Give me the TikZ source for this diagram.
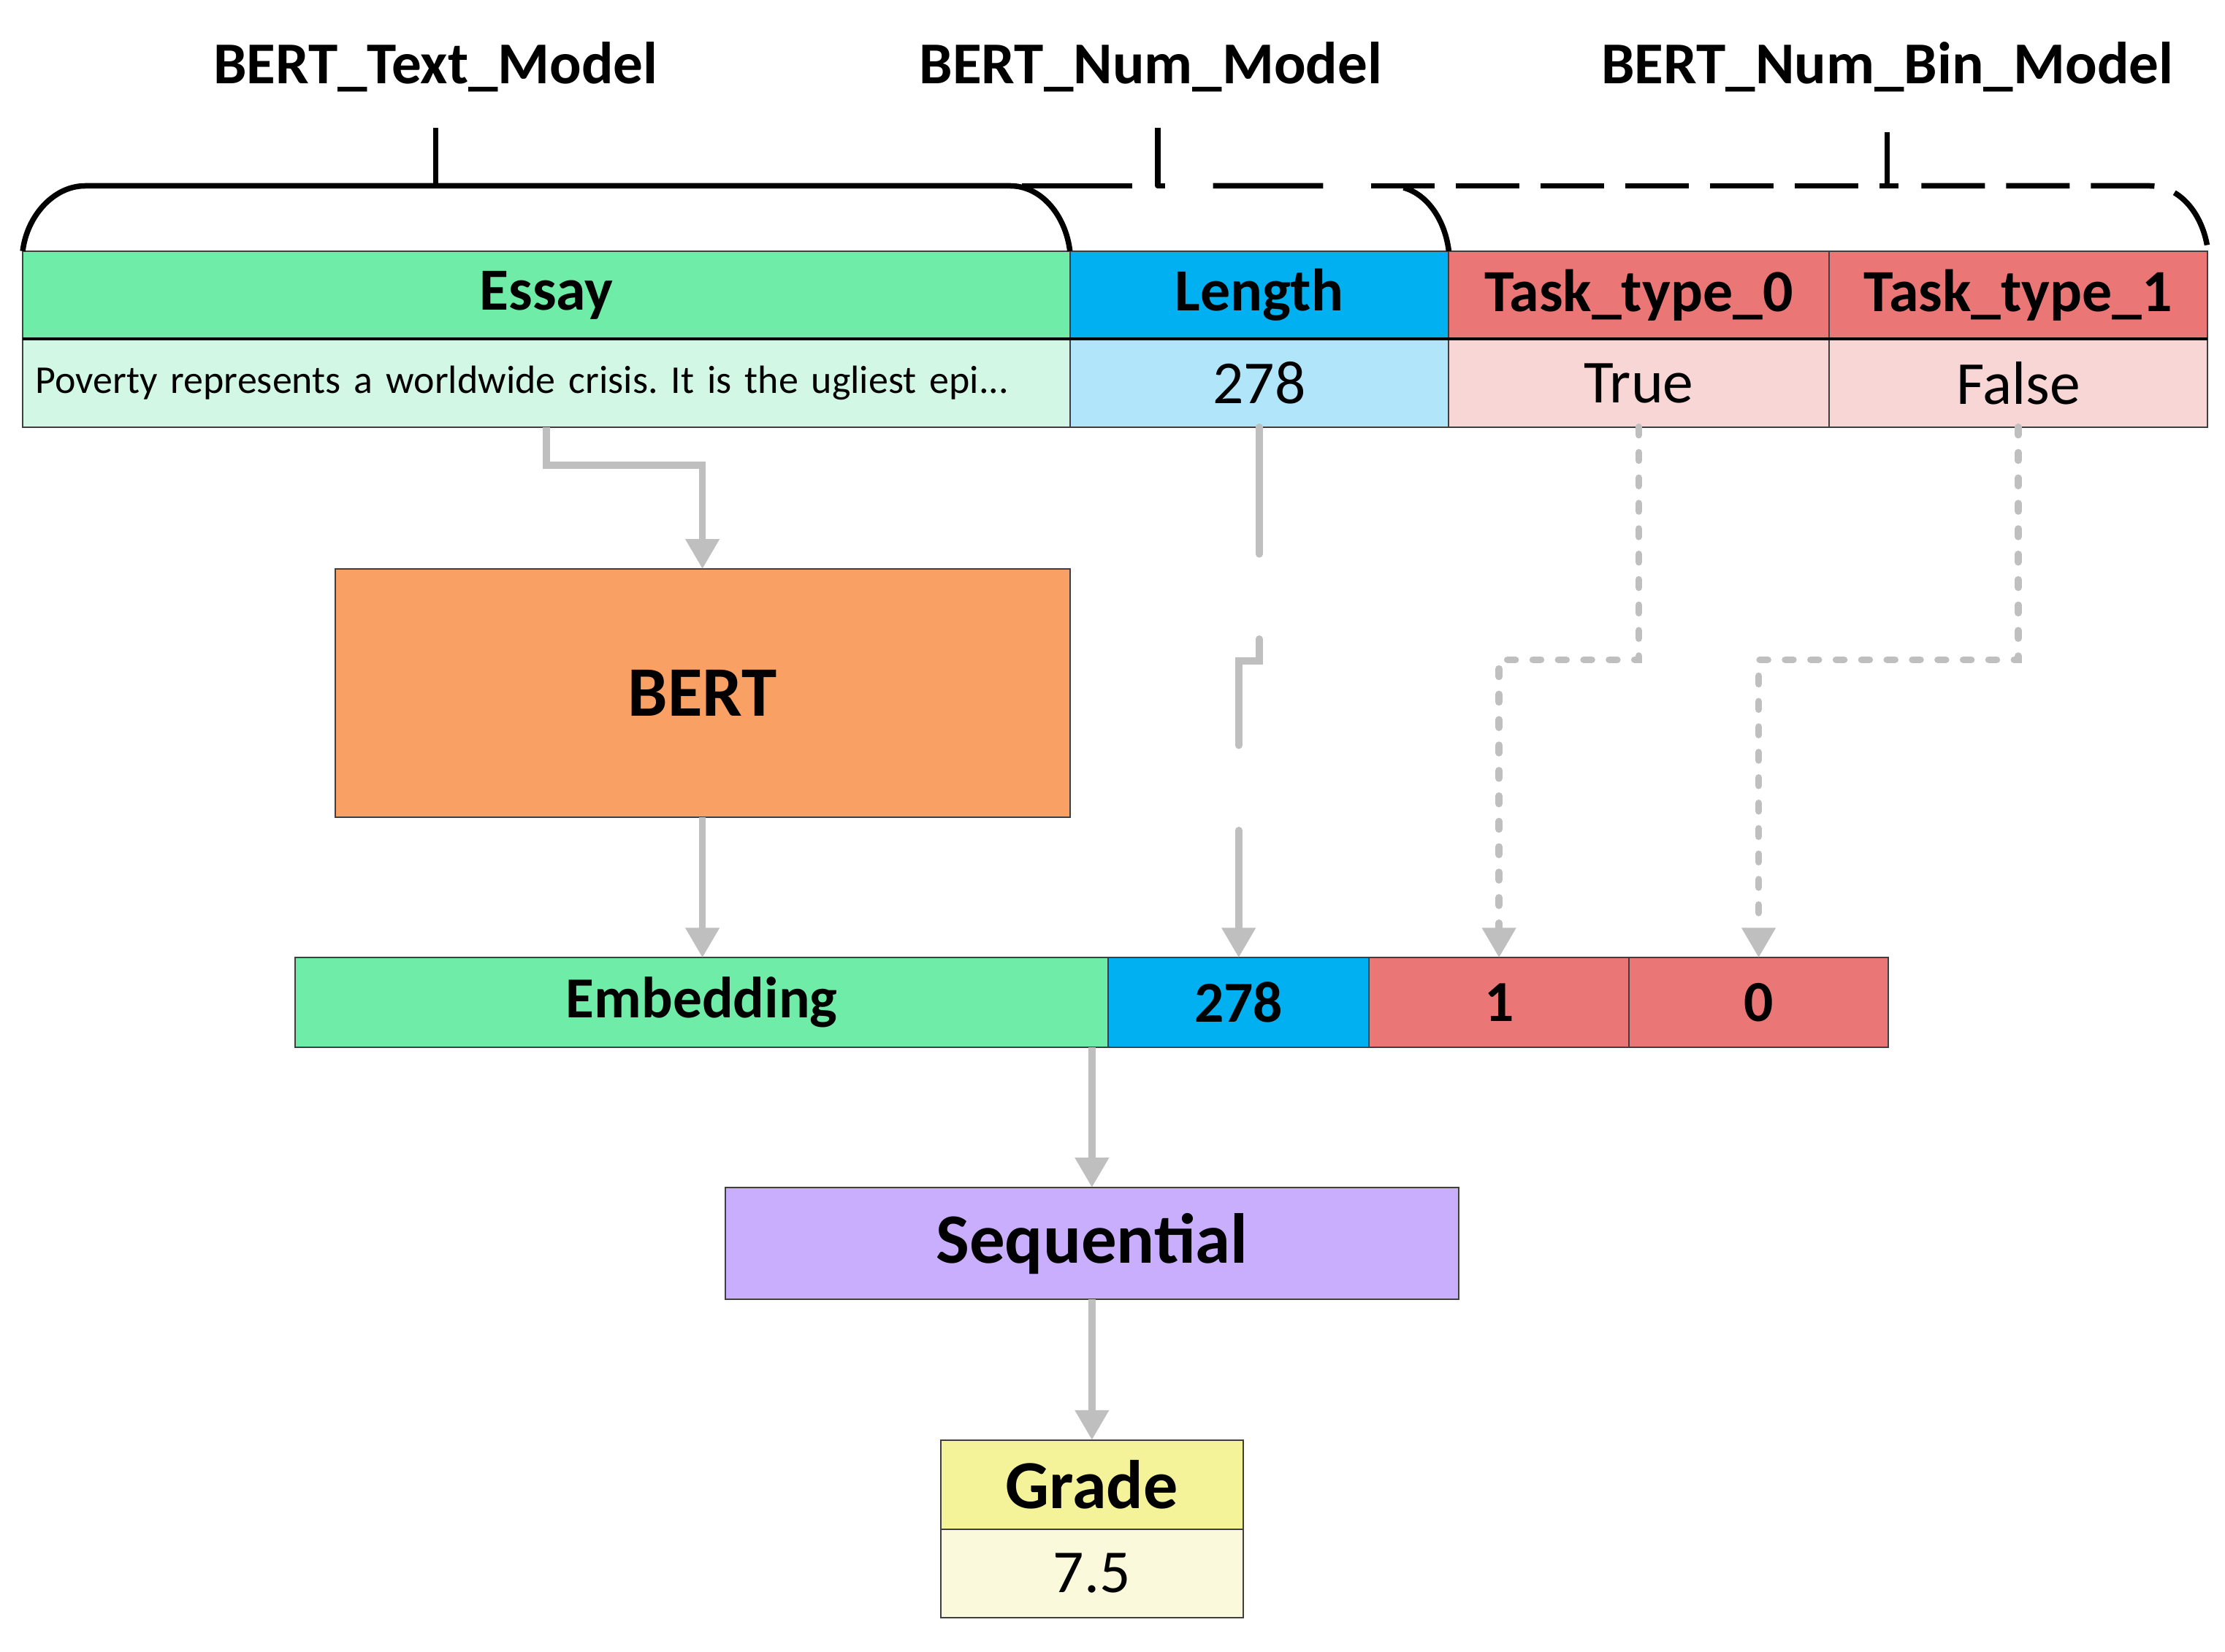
\documentclass[tikz,border=0pt]{standalone}
\usepackage{fontspec}
\setmainfont{Carlito}
\usetikzlibrary{arrows.meta, calc, positioning}
\definecolor{mTextGreen}{HTML}{6EECA8}
\definecolor{mTextGreenLight}{HTML}{D2F8E5}
\definecolor{mNumBlue}{HTML}{00B0F0}
\definecolor{mNumBlueLight}{HTML}{B1E6FA}
\definecolor{mBinRed}{HTML}{EB7676}
\definecolor{mBinRedLight}{HTML}{F8D6D6}
\definecolor{mBertOrange}{HTML}{F9A165}
\definecolor{mSeqPurple}{HTML}{C9AEFD}
\definecolor{mGradeYellow}{HTML}{F5F39A}
\definecolor{mGradeYellowLight}{HTML}{FBF9DC}
\definecolor{mArrowGray}{HTML}{BFBFBF}
\definecolor{mBorder}{HTML}{3F3F3F}
\newcommand{\headtext}{\bfseries\fontsize{24}{29}\selectfont}
\newcommand{\valtext}{\fontsize{24.5}{29}\selectfont}
\tikzset{
  cell/.style={
    rectangle, draw=mBorder, line width=0.6pt, inner sep=0pt, outer sep=0pt, text=black
  },
  headcell/.style={
    cell, minimum height=1.24cm, font=\headtext
  },
  valcell/.style={
    cell, minimum height=1.24cm, font=\valtext
  },
  embcell/.style={
    cell, minimum height=1.26cm, font=\bfseries\fontsize{23.3}{28}\selectfont
  },
  modellabel/.style={
    font=\bfseries\fontsize{23.8}{28}\selectfont, inner sep=0pt
  },
  brace/.style={
    line width=2.2pt, line join=round
  },
  numbrace/.style={
    brace, dash pattern=on 44.2pt off 32.3pt
  },
  binbrace/.style={
    brace, dash pattern=on 25.5pt off 8.5pt
  },
  link/.style={
    draw=mArrowGray, line width=2.8pt, -{Triangle[width=13pt,length=12pt]}
  },
  longdash/.style={
    dash pattern=on 51pt off 34pt, line cap=round
  },
  dotdash/.style={
    dash pattern=on 3.2pt off 7pt, line cap=round
  }
}

\begin{document}
\frenchspacing
\begin{tikzpicture}[x=0.02cm, y=-0.02cm]
        \useasboundingbox (0,0) rectangle (1568,1164);
        % model labels
        \node[modellabel] (tText) at (307,47) {BERT\_Text\_Model};
        \node[modellabel] (tNum) at (811,47) {BERT\_Num\_Model};
        \node[modellabel] (tBin) at (1330,47) {BERT\_Num\_Bin\_Model};
        % input table
        \node[headcell, minimum width=14.76cm, fill=mTextGreen] (essay) at (385,208) {Essay};
        \node[headcell, minimum width=5.34cm, fill=mNumBlue, right=0pt of essay] (length) {Length};
        \node[headcell, minimum width=5.36cm, fill=mBinRed, right=0pt of length] (task0) {Task\_type\_0};
        \node[headcell, minimum width=5.34cm, fill=mBinRed, right=0pt of task0] (task1) {Task\_type\_1};
        \node[valcell, minimum width=14.76cm, text width=14.4cm, align=left, inner xsep=0.18cm, fill=mTextGreenLight, font=\fontsize{15.8}{19}\selectfont, below=0pt of essay] (essayv) {Poverty represents a worldwide crisis. It is the ugliest epi...};
        \node[valcell, minimum width=5.34cm, fill=mNumBlueLight, below=0pt of length] (lengthv) {278};
        \node[valcell, minimum width=5.36cm, fill=mBinRedLight, below=0pt of task0] (task0v) {True};
        \node[valcell, minimum width=5.34cm, fill=mBinRedLight, below=0pt of task1] (task1v) {False};
        \draw[line width=1.2pt] (essayv.north west) -- (task1v.north east);
        % braces
        \draw[brace] (16,177) .. controls (19,152) and (38,131) .. (60,131) -- (712,131) .. controls (734,131) and (751,152) .. (754,177);
        \draw[brace] (307,131) -- (307,90);
        \draw[numbrace] (720,131) -- (816,131);
        \draw[numbrace, dash phase=54.4pt] (816,131) -- (980,131) .. controls (1002,131) and (1018,152) .. (1021,177);
        \draw[brace] (816,90) -- (816,131) -- (821,131);
        \draw[binbrace] (966,131) -- (1338,131);
        \draw[binbrace] (1354,131) -- (1515,131) .. controls (1537,131) and (1553,152) .. (1556,177);
        \draw[brace] (1330,93) -- (1330,131) -- (1338,131);
        % model blocks
        \node[cell, minimum width=10.36cm, minimum height=3.5cm, fill=mBertOrange, font=\bfseries\fontsize{28.5}{34}\selectfont] (bert) at (495,488.5) {BERT};
        \node[embcell, minimum width=11.46cm, fill=mTextGreen] (emb) at (494.5,706.5) {Embedding};
        \node[embcell, minimum width=3.68cm, fill=mNumBlue, right=0pt of emb] (num) {278};
        \node[embcell, minimum width=3.66cm, fill=mBinRed, right=0pt of num] (bin0) {1};
        \node[embcell, minimum width=3.66cm, fill=mBinRed, right=0pt of bin0] (bin1) {0};
        \node[cell, minimum width=10.34cm, minimum height=1.58cm, fill=mSeqPurple, font=\bfseries\fontsize{28.4}{34}\selectfont] (seq) at (769.5,876.5) {Sequential};
        \node[cell, minimum width=4.26cm, minimum height=1.26cm, fill=mGradeYellow, font=\bfseries\fontsize{27.6}{33}\selectfont] (grade) at (769.5,1046.5) {Grade};
        \node[valcell, minimum width=4.26cm, fill=mGradeYellowLight, below=0pt of grade] (gradev) {7.5};
        % connectors
        \draw[link] (essayv.south) -- ++(0,27) -| (bert.north);
        \draw[link] (bert.south) -- (emb.north -| bert.south);
        \draw[link, longdash] (lengthv.south) -- ++(0,165) -| (num.north);
        \draw[link, dotdash] (task0v.south) -- ++(0,164) -| (bin0.north);
        \draw[link, dotdash] (task1v.south) -- ++(0,164) -| (bin1.north);
        \draw[link] (emb.south -| seq.north) -- (seq.north);
        \draw[link] (seq.south) -- (grade.north);
\end{tikzpicture}
\end{document}
